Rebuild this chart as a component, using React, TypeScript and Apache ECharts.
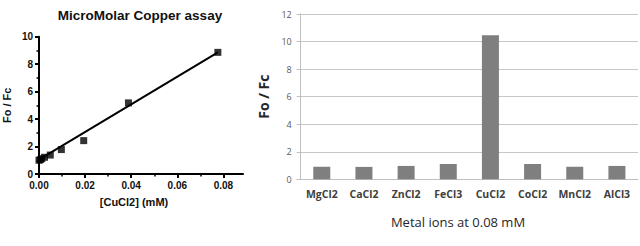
import React, { useEffect, useRef } from "react";
import * as echarts from "echarts";

// Left panel: CuCl2 titration
const concentrations = [0, 0.0006, 0.0012, 0.0024, 0.0049, 0.0097, 0.0194, 0.0388, 0.0776];
const ratios = [1.0, 1.05, 1.12, 1.22, 1.38, 1.78, 2.43, 5.18, 8.86];
const fitX = [0, 0.0776];
const fitY = [1.05, 8.86];
const xMajorTicks = [0, 0.02, 0.04, 0.06, 0.08];
const xMinorTicks = [0.01, 0.03, 0.05, 0.07];

// Right panel: metal ion selectivity
const metals = ["MgCl2", "CaCl2", "ZnCl2", "FeCl3", "CuCl2", "CoCl2", "MnCl2", "AlCl3"];
const metalRatios = [0.91, 0.9, 0.97, 1.11, 10.45, 1.11, 0.91, 0.97];

const leftFont = "'Liberation Sans', Arial, sans-serif";
const rightFont = "'Open Sans', 'Noto Sans', sans-serif";

export default function App() {
  const ref = useRef<HTMLDivElement>(null);
  useEffect(() => {
    if (!ref.current) return;
    const chart = echarts.init(ref.current, null, { renderer: "svg" });
    const scatterData = concentrations.map((c, i) => [c, ratios[i]]);
    const fitData = fitX.map((x, i) => [x, fitY[i]]);
    chart.setOption({
      animation: false,
      backgroundColor: "#ffffff",
      grid: [
        { left: 37.3, top: 36.7, width: 205.7, height: 137.3 },
        { left: 300.7, top: 14, width: 337.3, height: 165.3 },
      ],
      xAxis: [
        {
          type: "value",
          gridIndex: 0,
          position: "bottom",
          min: 0,
          max: 0.0885,
          interval: 0.02,
          axisLine: { show: true, lineStyle: { color: "#000", width: 2 } },
          axisTick: { show: true, length: 4, lineStyle: { color: "#000", width: 2 }, customValues: xMajorTicks },
          axisLabel: {
            customValues: xMajorTicks,
            formatter: (v: number) => v.toFixed(2),
            fontFamily: leftFont,
            fontWeight: "bold",
            fontSize: 10,
            color: "#111",
            margin: 6,
          },
          splitLine: { show: false },
        },
        {
          type: "value",
          gridIndex: 0,
          position: "bottom",
          min: 0,
          max: 0.0885,
          interval: 0.02,
          axisLine: { show: false },
          axisTick: { show: true, length: 2.5, lineStyle: { color: "#000", width: 1.5 }, customValues: xMinorTicks },
          axisLabel: { show: false },
          splitLine: { show: false },
        },
        {
          type: "category",
          gridIndex: 1,
          data: metals,
          axisLine: { show: true, lineStyle: { color: "#bfbfbf", width: 1 } },
          axisTick: { show: false },
          axisLabel: {
            interval: 0,
            fontFamily: rightFont,
            fontWeight: "bold",
            fontSize: 10.5,
            color: "#404040",
            margin: 9,
          },
          splitLine: { show: false },
        },
      ],
      yAxis: [
        {
          type: "value",
          gridIndex: 0,
          min: 0,
          max: 10,
          interval: 2,
          name: "Fo / Fc",
          nameLocation: "middle",
          nameGap: 27,
          nameTextStyle: { fontFamily: leftFont, fontWeight: "bold", fontSize: 11, color: "#111" },
          axisLine: { show: true, lineStyle: { color: "#000", width: 2 } },
          axisTick: { show: true, length: 4, lineStyle: { color: "#000", width: 2 } },
          minorTick: { show: true, splitNumber: 2, length: 2.5, lineStyle: { color: "#000", width: 1.5 } },
          axisLabel: { fontFamily: leftFont, fontWeight: "bold", fontSize: 10, color: "#111", margin: 6 },
          splitLine: { show: false },
        },
        {
          type: "value",
          gridIndex: 1,
          min: 0,
          max: 12,
          interval: 2,
          name: "Fo / Fc",
          nameLocation: "middle",
          nameGap: 30,
          nameTextStyle: { fontFamily: rightFont, fontWeight: "bold", fontSize: 14, color: "#262626" },
          axisLine: { show: true, lineStyle: { color: "#bfbfbf", width: 1 } },
          axisTick: { show: true, length: 4, lineStyle: { color: "#bfbfbf", width: 1 } },
          axisLabel: { fontFamily: rightFont, fontSize: 9, color: "#595959", margin: 9 },
          splitLine: { show: true, lineStyle: { color: "#c6c6c6", width: 1 } },
        },
      ],
      graphic: [
        {
          type: "text",
          x: 140,
          y: 15,
          style: {
            text: "MicroMolar Copper assay",
            textAlign: "center",
            textVerticalAlign: "middle",
            font: `bold 13.5px ${leftFont}`,
            fill: "#111",
          },
        },
        {
          type: "text",
          x: 134,
          y: 202,
          style: {
            text: "[CuCl2] (mM)",
            textAlign: "center",
            textVerticalAlign: "middle",
            font: `bold 11px ${leftFont}`,
            fill: "#111",
          },
        },
        {
          type: "text",
          x: 458,
          y: 222,
          style: {
            text: "Metal ions at 0.08 mM",
            textAlign: "center",
            textVerticalAlign: "middle",
            font: `13px ${rightFont}`,
            fill: "#262626",
          },
        },
      ],
      series: [
        {
          type: "line",
          xAxisIndex: 0,
          yAxisIndex: 0,
          data: fitData,
          showSymbol: false,
          symbol: "none",
          lineStyle: { color: "#000", width: 2 },
          z: 2,
        },
        {
          type: "scatter",
          xAxisIndex: 0,
          yAxisIndex: 0,
          data: scatterData,
          symbol: "rect",
          symbolSize: 7,
          itemStyle: { color: "#000" },
          z: 3,
        },
        {
          type: "bar",
          xAxisIndex: 2,
          yAxisIndex: 1,
          data: metalRatios,
          barWidth: 17,
          itemStyle: { color: "#7f7f7f" },
        },
      ],
    });
    return () => chart.dispose();
  }, []);
  return (
    <div
      ref={ref}
      style={{ position: "absolute", left: 0, top: 0, width: 640, height: 246, background: "#fff" }}
    />
  );
}
